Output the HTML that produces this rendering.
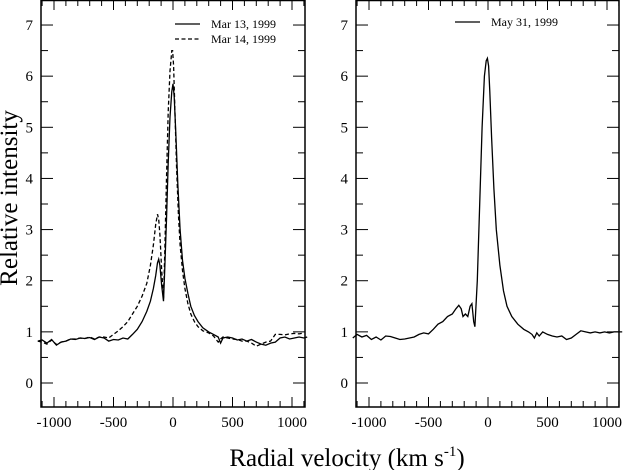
<!DOCTYPE html>
<html><head><meta charset="utf-8"><style>
body{margin:0;background:#fff;}
svg text{font-family:"Liberation Serif",serif;fill:#000;}
</style></head><body>
<svg id="chart" width="624" height="470" xmlns="http://www.w3.org/2000/svg">
<g id="p1"></g>
<g id="p2"></g>
<text x="17" y="198" font-size="25" text-anchor="middle" transform="rotate(-90 17 198)">Relative intensity</text>
<text x="347" y="466" font-size="25" text-anchor="middle">Radial velocity (km s<tspan dy="-10" font-size="15">-1</tspan><tspan dy="10">)</tspan></text>
</svg>
<script>
const xTicks=[-1000,-500,0,500,1000];
const yTicks=[0,1,2,3,4,5,6,7];
const velMar13=[-1136,-1100,-1060,-1020,-980,-940,-900,-860,-820,-780,-740,-700,-660,-620,-580,-540,-500,-460,-420,-380,-340,-300,-260,-220,-190,-165,-145,-130,-120,-110,-95,-80,-70,-55,-40,-25,-10,0,10,25,40,60,80,100,125,150,180,210,250,300,340,380,400,420,460,500,540,580,620,660,700,740,780,820,860,900,940,980,1020,1060,1100,1128];
const intMar13=[0.82,0.84,0.78,0.85,0.74,0.8,0.82,0.86,0.85,0.88,0.87,0.89,0.85,0.9,0.88,0.82,0.85,0.84,0.88,0.86,0.95,1.05,1.2,1.4,1.6,1.85,2.1,2.35,2.42,2.3,1.9,1.6,2.2,3.2,4.3,5.2,5.7,5.85,5.6,4.8,3.9,3.0,2.4,2.05,1.75,1.5,1.32,1.2,1.08,1.0,0.95,0.9,0.78,0.88,0.9,0.88,0.84,0.86,0.82,0.85,0.8,0.76,0.74,0.78,0.8,0.88,0.9,0.86,0.88,0.9,0.88,0.9];
const velMar14=[-1136,-1100,-1060,-1020,-980,-940,-900,-860,-820,-780,-740,-700,-660,-620,-580,-540,-500,-460,-420,-380,-340,-300,-260,-220,-190,-165,-145,-130,-120,-110,-95,-80,-70,-55,-40,-25,-10,-3,5,15,30,45,60,80,100,125,150,180,210,250,300,340,380,400,420,460,500,540,580,620,660,700,740,780,820,860,900,940,980,1020,1060,1100,1128];
const intMar14=[0.82,0.8,0.76,0.84,0.75,0.8,0.82,0.86,0.86,0.88,0.87,0.9,0.86,0.9,0.9,0.88,0.95,1.02,1.1,1.2,1.35,1.5,1.7,1.95,2.3,2.7,3.1,3.3,3.2,2.9,2.2,1.65,2.5,4.0,5.3,6.1,6.5,6.5,6.2,5.4,4.2,3.3,2.7,2.2,1.85,1.55,1.35,1.2,1.1,1.02,0.98,0.92,0.8,0.86,0.9,0.88,0.86,0.85,0.82,0.82,0.78,0.72,0.76,0.8,0.82,0.95,0.95,0.94,0.96,0.97,0.96,0.98];
const velMay31=[-1136,-1100,-1060,-1020,-980,-940,-900,-860,-820,-780,-740,-700,-660,-620,-580,-540,-500,-460,-420,-380,-340,-300,-270,-245,-225,-210,-190,-170,-150,-135,-120,-110,-90,-70,-50,-30,-15,-5,5,15,30,50,70,100,130,160,200,250,300,340,370,390,410,430,460,500,540,580,620,660,700,740,780,820,860,900,940,980,1020,1060,1100,1128];
const intMay31=[0.88,0.95,0.9,0.93,0.85,0.9,0.84,0.92,0.91,0.88,0.85,0.86,0.88,0.9,0.95,0.98,0.96,1.05,1.15,1.2,1.3,1.35,1.45,1.52,1.45,1.3,1.35,1.3,1.5,1.55,1.2,1.1,2.0,3.5,5.0,6.0,6.3,6.35,6.2,5.7,4.8,3.8,3.0,2.3,1.8,1.5,1.3,1.15,1.05,1.0,0.95,0.88,0.98,0.92,1.0,0.95,0.92,0.9,0.92,0.85,0.88,0.95,1.02,1.0,0.98,1.0,0.98,1.0,0.98,1.0,1.0,1.0];

const NS='http://www.w3.org/2000/svg';
function mk(p,tag,at){const e=document.createElementNS(NS,tag);for(const k in at)e.setAttribute(k,at[k]);p.appendChild(e);return e;}
const yTop=0,yBot=407,yScale=v=>383-v*51.14;
function panel(g,L,R,x0,x1000){
  const xs=v=>x0+(v/1000)*(x1000-x0);
  const f=mk(g,'rect',{x:L,y:0.5,width:R-L,height:yBot-0.5,fill:'none',stroke:'#000','stroke-width':1.5});
  
  for(let v=-1100;v<=1100;v+=100){const x=xs(v);if(x<L||x>R)continue;const len=v%500===0?10:6;
    mk(g,'line',{x1:x,y1:yBot,x2:x,y2:yBot-len,stroke:'#000'});mk(g,'line',{x1:x,y1:0,x2:x,y2:len,stroke:'#000'});}
  xTicks.forEach(v=>{const t=mk(g,'text',{x:xs(v),y:yBot+20,'font-size':15,'text-anchor':'middle'});t.textContent=v;
    });
  for(let v=0;v<=7.01;v+=0.5){const y=yScale(v);const len=Number.isInteger(v)?12:7;
    mk(g,'line',{x1:L,y1:y,x2:L+len,y2:y,stroke:'#000'});mk(g,'line',{x1:R,y1:y,x2:R-len,y2:y,stroke:'#000'});}
  yTicks.forEach(v=>{const t=mk(g,'text',{x:L-8,y:yScale(v)+5,'font-size':15,'text-anchor':'end'});t.textContent=v;
    });
  return xs;
}
function line(g,xs,vel,val,dash,name){
  const d=vel.map((v,i)=>(i?'L':'M')+xs(v).toFixed(1)+','+yScale(val[i]).toFixed(1)).join('');
  const p=mk(g,'path',{d:d,fill:'none',stroke:'#000','stroke-width':1.3});
  if(dash)p.setAttribute('stroke-dasharray','4,2.5');
  
}
function legend(g,x,y,label,dash,name){
  const l=mk(g,'line',{x1:x,y1:y,x2:x+25,y2:y,stroke:'#000','stroke-width':1.2});if(dash)l.setAttribute('stroke-dasharray','4,2.5');
  const t=mk(g,'text',{x:x+36,y:y+4,'font-size':12});t.textContent=label;
  
}
const g1=document.getElementById('p1'),g2=document.getElementById('p2');
const xs1=panel(g1,41,305,173,292);
line(g1,xs1,velMar13,intMar13,false,'series-mar13');
line(g1,xs1,velMar14,intMar14,true,'series-mar14');
legend(g1,175,24,'Mar 13, 1999',false,'legend-entry-mar13');
legend(g1,175,39,'Mar 14, 1999',true,'legend-entry-mar14');
const xs2=panel(g2,356,619,488,607);
line(g2,xs2,velMay31,intMay31,false,'series-may31');
legend(g2,455,22,'May 31, 1999',false,'legend-entry-may31');
</script>
</body></html>
